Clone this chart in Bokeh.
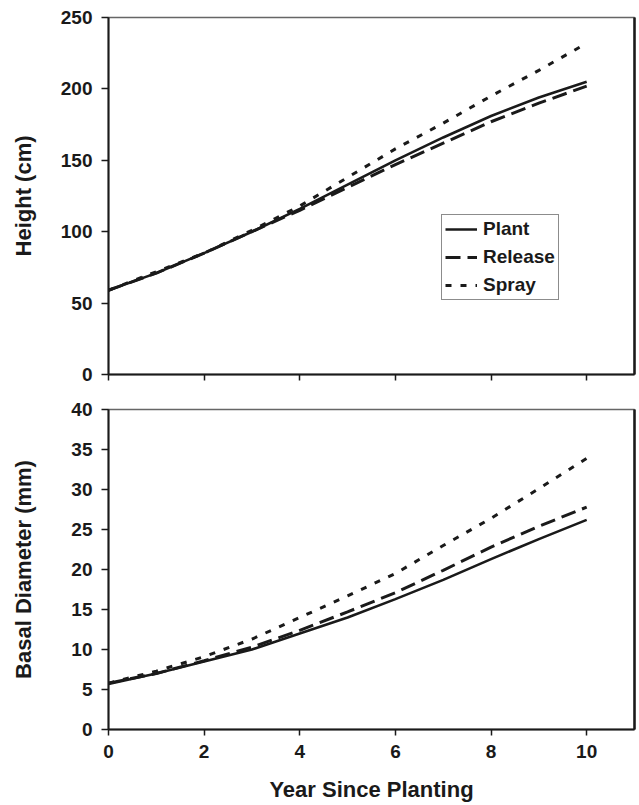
from bokeh.plotting import figure
from bokeh.models import Legend, LegendItem, LinearAxis, FixedTicker, Range1d
from bokeh.layouts import column
from bokeh.embed import file_html
from bokeh.resources import INLINE

years = [0, 1, 2, 3, 4, 5, 6, 7, 8, 9, 10]

height_plant = [59, 71, 85, 100, 116, 133, 150, 166, 181, 194, 205]
height_release = [59, 71, 85, 100, 115, 131, 147, 162, 177, 190, 202]
height_spray = [59, 72, 85, 101, 118, 138, 158, 176, 195, 213, 232]

diam_plant = [5.7, 7.0, 8.5, 10.0, 12.0, 14.0, 16.3, 18.7, 21.3, 23.8, 26.2]
diam_release = [5.8, 7.0, 8.6, 10.3, 12.4, 14.7, 17.1, 19.9, 22.8, 25.4, 27.8]
diam_spray = [5.8, 7.3, 9.1, 11.3, 14.0, 16.7, 19.5, 23.0, 26.4, 30.1, 33.9]

series_names = ["Plant", "Release", "Spray"]
x_ticks = [0, 2, 4, 6, 8, 10]
height_ticks = [0, 50, 100, 150, 200, 250]
diam_ticks = [0, 5, 10, 15, 20, 25, 30, 35, 40]

FONT = "Liberation Sans"
INK = "#1a1a1a"
styles = [
    dict(line_width=2.6, line_dash="solid"),
    dict(line_width=3.0, line_dash="15 7"),
    dict(line_width=3.0, line_dash="6 9"),
]


def make_fig(ymax, yticks, ylabel, label_standoff, frame_h, top, bottom, show_x):
    p = figure(frame_width=526, frame_height=frame_h,
               x_range=Range1d(0, 11), y_range=Range1d(0, ymax),
               output_backend="svg", toolbar_location=None,
               min_border_left=108, min_border_right=4,
               min_border_top=top, min_border_bottom=bottom,
               background_fill_color="white", border_fill_color="white")
    p.grid.visible = False
    p.outline_line_color = "#666666"
    p.outline_line_width = 1.5

    for ax in (p.xaxis[0], p.yaxis[0]):
        ax.axis_line_color = INK
        ax.axis_line_width = 2
        ax.major_tick_line_color = INK
        ax.major_tick_line_width = 1.5
        ax.major_tick_in = 0
        ax.minor_tick_line_color = None
        ax.major_label_text_font = FONT
        ax.major_label_text_font_style = "bold"
        ax.major_label_text_font_size = "19px"
        ax.major_label_text_color = INK
        ax.axis_label_text_font = FONT
        ax.axis_label_text_font_style = "bold"
        ax.axis_label_text_font_size = "22px"
        ax.axis_label_text_color = INK

    p.xaxis.ticker = FixedTicker(ticks=x_ticks)
    p.xaxis.major_tick_out = 6
    p.xaxis.major_label_standoff = 9
    if not show_x:
        p.xaxis.major_label_overrides = {t: "" for t in x_ticks}
    p.yaxis.ticker = FixedTicker(ticks=yticks)
    p.yaxis.major_tick_out = 7
    p.yaxis.major_label_standoff = 9
    p.yaxis.axis_label = ylabel
    p.yaxis.axis_label_standoff = label_standoff

    right = LinearAxis(ticker=FixedTicker(ticks=[]), axis_line_color=INK,
                       axis_line_width=2.5, major_tick_out=0, minor_tick_out=0,
                       major_label_text_font_size="0px")
    p.add_layout(right, "right")
    return p


p1 = make_fig(250, height_ticks, "Height (cm)", 22, 357, 17, 20, False)
r = []
for ys, st in zip([height_plant, height_release, height_spray], styles):
    r.append(p1.line(years, ys, line_color=INK, **st))

legend = Legend(items=[LegendItem(label=n, renderers=[g]) for n, g in zip(series_names, r)],
                location=(333, 74), orientation="vertical",
                label_text_font=FONT, label_text_font_style="bold",
                label_text_font_size="19px", label_text_color=INK,
                glyph_width=32, glyph_height=20, label_height=20,
                label_standoff=6, spacing=6, padding=3, margin=0,
                border_line_color=INK, border_line_width=1.2,
                background_fill_color="white", background_fill_alpha=1)
p1.add_layout(legend, "center")

p2 = make_fig(40, diam_ticks, "Basal Diameter (mm)", 32, 320, 15, 40, True)
p2.xaxis.axis_label = "Year Since Planting"
p2.xaxis.axis_label_standoff = 16
for ys, st in zip([diam_plant, diam_release, diam_spray], styles):
    p2.line(years, ys, line_color=INK, **st)

layout = column(p1, p2, spacing=0)
open("out.html", "w").write(file_html(layout, INLINE))
